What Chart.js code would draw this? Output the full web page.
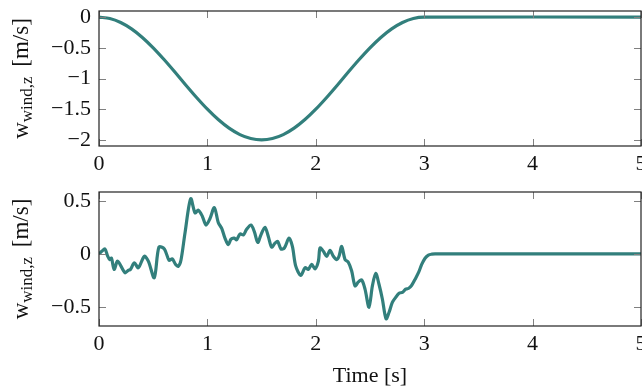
<!DOCTYPE html>
<html><head><meta charset="utf-8">
<script src="https://cdn.jsdelivr.net/npm/chart.js@4.4.1/dist/chart.umd.min.js"></script>
<style>
body{margin:0;background:#fff;width:642px;height:389px;overflow:hidden;position:relative}
canvas{position:absolute;left:0}
</style></head><body>
<canvas id="c1" width="642" height="180" style="top:0"></canvas>
<canvas id="c2" width="642" height="209" style="top:180px"></canvas>
<script>
// ---- data ----
const xTicks = [0, 1, 2, 3, 4, 5];
const topYTicks = [-2, -1.5, -1, -0.5, 0];
const bottomYTicks = [-0.5, 0, 0.5];

const topTime = [0,0.1,0.2,0.3,0.4,0.5,0.6,0.7,0.8,0.9,1.0,1.1,1.2,1.3,1.4,1.5,1.6,1.7,1.8,1.9,2.0,2.1,2.2,2.3,2.4,2.5,2.6,2.7,2.8,2.9,3.0,5];
const topWind = [0,-0.022,-0.087,-0.191,-0.331,-0.5,-0.691,-0.895,-1.105,-1.309,-1.5,-1.669,-1.809,-1.914,-1.978,-2,-1.978,-1.914,-1.809,-1.669,-1.5,-1.309,-1.105,-0.895,-0.691,-0.5,-0.331,-0.191,-0.087,-0.022,0,0];

const bottomTime = [
 0, 0.025, 0.055, 0.08, 0.10, 0.115, 0.14, 0.172, 0.24, 0.27,
 0.29, 0.326, 0.363, 0.418, 0.455, 0.51, 0.553, 0.603, 0.646, 0.676,
 0.707, 0.732, 0.756, 0.793, 0.846, 0.886, 0.916, 0.953, 0.987, 1.024,
 1.064, 1.101, 1.132, 1.162, 1.193, 1.218, 1.249, 1.27, 1.301, 1.332,
 1.362, 1.402, 1.433, 1.464, 1.494, 1.531, 1.562, 1.593, 1.624, 1.648,
 1.679, 1.71, 1.753, 1.784, 1.815, 1.861, 1.901, 1.931, 1.962, 1.993,
 2.024, 2.039, 2.070, 2.101, 2.131, 2.162, 2.193, 2.214, 2.239, 2.270,
 2.300, 2.331, 2.362, 2.393, 2.423, 2.454, 2.491, 2.522, 2.553, 2.583,
 2.614, 2.648, 2.676, 2.706, 2.737, 2.768, 2.799, 2.829, 2.854, 2.885,
 2.916, 2.947, 2.977, 3.008, 3.039, 3.07, 3.1, 5];
const bottomWind = [
 0, 0.025, 0.047, -0.02, -0.053, -0.04, -0.146, -0.068, -0.177, -0.155,
 -0.146, -0.084, -0.130, -0.022, -0.068, -0.224, 0.065, 0.047, -0.059, -0.047,
 -0.10, -0.115, -0.059, 0.196, 0.522, 0.388, 0.413, 0.357, 0.273, 0.335,
 0.438, 0.295, 0.242, 0.149, 0.087, 0.14, 0.149, 0.134, 0.189, 0.18,
 0.233, 0.273, 0.211, 0.109, 0.18, 0.252, 0.165, 0.065, 0.102, 0.118,
 0.047, 0.056, 0.149, 0.071, -0.115, -0.202, -0.130, -0.146, -0.099, -0.14,
 -0.068, 0.056, 0.025, -0.022, 0.034, -0.022, -0.053, -0.022, 0.071, -0.053,
 -0.078, -0.161, -0.301, -0.264, -0.245, -0.332, -0.503, -0.301, -0.183, -0.286,
 -0.425, -0.612, -0.55, -0.457, -0.41, -0.37, -0.363, -0.332, -0.326, -0.295,
 -0.239, -0.177, -0.099, -0.04, -0.01, -0.002, 0, 0];

const yLabelMain = 'w', yLabelSub = 'wind,z', yLabelUnit = ' [m/s]';
const xLabel = 'Time [s]';

// ---- style ----
const FONT = '"Liberation Serif", "Times New Roman", serif';
const LINE = '#327f7c';
function fmt(v){ return v < 0 ? '\u2212' + String(Math.abs(v)) : String(v); }

const framePlugin = {
  id: 'frame',
  afterDatasetsDraw(chart){
    const {ctx, chartArea: a, scales} = chart;
    ctx.save();
    const L = 7;
    ctx.strokeStyle = '#808080'; ctx.lineWidth = 1;
    ctx.beginPath();
    scales.x.ticks.forEach(t => {
      const px = Math.round(scales.x.getPixelForValue(t.value)) + 0.5;
      ctx.moveTo(px, a.bottom); ctx.lineTo(px, a.bottom - L);
      ctx.moveTo(px, a.top); ctx.lineTo(px, a.top + L);
    });
    scales.y.ticks.forEach(t => {
      const py = Math.round(scales.y.getPixelForValue(t.value)) + 0.5;
      ctx.moveTo(a.left, py); ctx.lineTo(a.left + L, py);
      ctx.moveTo(a.right, py); ctx.lineTo(a.right - L, py);
    });
    ctx.stroke();
    ctx.strokeStyle = '#222'; ctx.lineWidth = 1.2;
    ctx.strokeRect(a.left, a.top, a.right - a.left, a.bottom - a.top);
    // rotated y label with subscript
    const cx = 21, cy = (a.top + a.bottom) / 2;
    ctx.translate(cx, cy); ctx.rotate(-Math.PI / 2);
    ctx.fillStyle = '#111'; ctx.textBaseline = 'alphabetic'; ctx.textAlign = 'left';
    const fMain = '23px ' + FONT, fSub = '17px ' + FONT;
    ctx.font = fMain; const wM = ctx.measureText(yLabelMain).width; const wU = ctx.measureText(yLabelUnit).width;
    ctx.font = fSub; const wS = ctx.measureText(yLabelSub).width;
    let x = -(wM + wS + wU + 4) / 2;
    const base = 7;
    ctx.font = fMain; ctx.fillText(yLabelMain, x, base); x += wM;
    ctx.font = fSub; ctx.fillText(yLabelSub, x, base + 4); x += wS + 4;
    ctx.font = fMain; ctx.fillText(yLabelUnit, x, base);
    ctx.restore();
  }
};

function makeChart(id, time, vals, yTicks, yMin, yMax, topPad, xHeight, showTitle){
  const pts = time.map((t, i) => ({x: t, y: vals[i]}));
  return new Chart(document.getElementById(id), {
    type: 'line',
    data: { datasets: [{ data: pts, borderColor: LINE, borderWidth: 3.2, pointRadius: 0, tension: 0.3, fill: false }] },
    options: {
      responsive: false, animation: false,
      layout: { padding: { top: topPad, right: 1, left: 0, bottom: 0 } },
      plugins: { legend: { display: false }, tooltip: { enabled: false } },
      scales: {
        x: {
          type: 'linear', min: 0, max: 5,
          afterBuildTicks: s => { s.ticks = xTicks.map(v => ({value: v})); },
          afterFit: s => { s.height = xHeight; s.paddingLeft = 0; s.paddingRight = 0; },
          grid: { display: false, drawTicks: false }, border: { display: false },
          ticks: { padding: 5, color: '#111', font: { family: FONT, size: 22 }, maxRotation: 0, callback: v => fmt(v) },
          title: { display: showTitle, text: xLabel, color: '#111', font: { family: FONT, size: 22 }, padding: { top: 0, bottom: 0 } }
        },
        y: {
          type: 'linear', min: yMin, max: yMax,
          afterBuildTicks: s => { s.ticks = yTicks.map(v => ({value: v})); },
          afterFit: s => { s.width = 99; s.paddingTop = 0; s.paddingBottom = 0; },
          grid: { display: false, drawTicks: false }, border: { display: false },
          ticks: { padding: 8, color: '#111', font: { family: FONT, size: 22 }, callback: v => fmt(v) }
        }
      }
    },
    plugins: [framePlugin]
  });
}

makeChart('c1', topTime, topWind, topYTicks, -2.1, 0.1, 11, 34, false);
makeChart('c2', bottomTime, bottomWind, bottomYTicks, -0.68, 0.585, 12, 63, true);
</script>
</body></html>
